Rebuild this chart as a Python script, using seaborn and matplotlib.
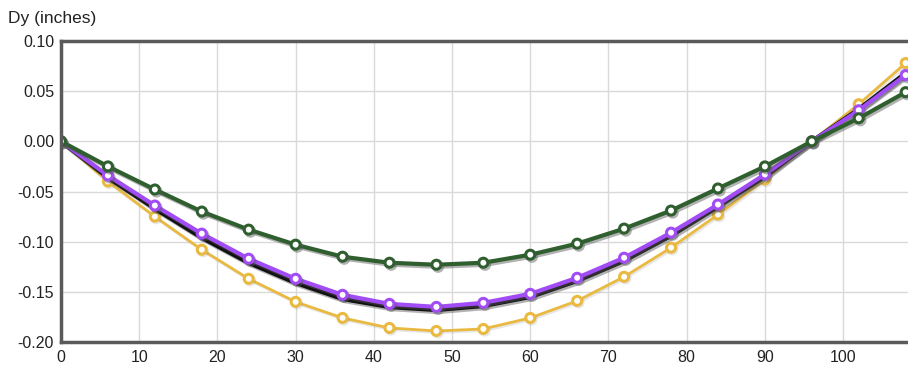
import numpy as np
import pandas as pd
import matplotlib
matplotlib.use("Agg")
import matplotlib.pyplot as plt
import matplotlib.patheffects as pe
from matplotlib.ticker import FuncFormatter, MultipleLocator
import seaborn as sns

# Station positions along the beam
x_pos = [0, 6, 12, 18, 24, 30, 36, 42, 48, 54, 60, 66, 72, 78, 84, 90, 96, 102, 108]

# Deflection Dy (inches)
dy_green = [0, -0.025, -0.048, -0.070, -0.088, -0.103, -0.115, -0.121, -0.123, -0.121,
            -0.113, -0.102, -0.087, -0.069, -0.047, -0.025, 0, 0.023, 0.049]
dy_purple = [0, -0.034, -0.064, -0.092, -0.117, -0.137, -0.153, -0.162, -0.165, -0.161,
             -0.152, -0.136, -0.116, -0.091, -0.063, -0.033, 0, 0.031, 0.066]
dy_black = [0, -0.036, -0.067, -0.096, -0.121, -0.141, -0.157, -0.165, -0.168, -0.164,
            -0.155, -0.139, -0.119, -0.094, -0.065, -0.035, 0, 0.032, 0.068]
dy_yellow = [0, -0.040, -0.075, -0.108, -0.137, -0.160, -0.176, -0.186, -0.189, -0.187,
             -0.176, -0.159, -0.135, -0.106, -0.073, -0.038, 0, 0.037, 0.078]

sns.set_theme(style="white")
plt.rcParams['font.family'] = ['Liberation Sans', 'DejaVu Sans']

fig = plt.figure(figsize=(9.08, 3.69), dpi=100)
ax = fig.add_axes([61 / 908, 27 / 369, 847 / 908, 301 / 369])

heavy_shadow = [pe.SimpleLineShadow(offset=(1.2, -1.5), shadow_color='#555555', alpha=0.45), pe.Normal()]
light_shadow = [pe.SimpleLineShadow(offset=(1.0, -1.2), shadow_color='#888888', alpha=0.2), pe.Normal()]

series = [
    ("yellow", dy_yellow, "#e9b940", 2.0, True, light_shadow),
    ("black", dy_black, "#111111", 3.2, False, heavy_shadow),
    ("purple", dy_purple, "#a24cf5", 3.0, True, heavy_shadow),
    ("green", dy_green, "#2f5f2f", 3.0, True, heavy_shadow),
]

for name, vals, color, lw, has_marker, effects in series:
    df = pd.DataFrame({"x": x_pos, "y": vals})
    kw = dict(marker="o", markersize=6.5, markerfacecolor="white",
              markeredgecolor=color, markeredgewidth=2.2) if has_marker else {}
    sns.lineplot(data=df, x="x", y="y", ax=ax, color=color, linewidth=lw,
                 path_effects=effects, **kw)

ax.set_xlim(0, 108.3)
ax.set_ylim(-0.2, 0.1)
ax.yaxis.set_major_locator(MultipleLocator(0.05))
ax.yaxis.set_major_formatter(FuncFormatter(lambda v, p: f"{v:.2f}".replace("-0.00", "0.00")))
ax.set_xticks(range(0, 101, 10))
ax.set_xlabel("")
ax.set_ylabel("")
ax.grid(True, color="#d9d9d9", linewidth=1)
ax.tick_params(axis="both", length=0, labelsize=11.5, colors="#222222")
ax.tick_params(axis="x", pad=6)
ax.tick_params(axis="y", pad=5)

for side in ["top", "left", "bottom"]:
    ax.spines[side].set_color("#5a5a5a")
    ax.spines[side].set_linewidth(2.5)
ax.spines["right"].set_visible(False)

fig.text(8 / 908, 1 - 19 / 369, "Dy (inches)", fontsize=12.5, color="#222222", va="center", ha="left")

fig.savefig("out.png", dpi=100)
